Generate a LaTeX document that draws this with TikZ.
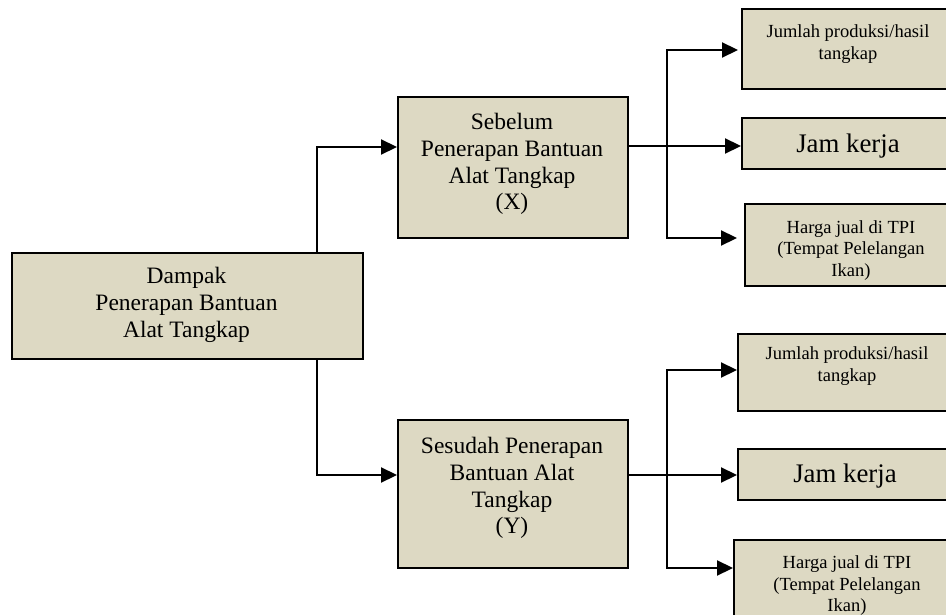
\documentclass[tikz,border=0pt]{standalone}
\usepackage{fontspec}
\setmainfont{Liberation Serif}
\usetikzlibrary{arrows.meta,calc}
\definecolor{boxfill}{RGB}{221,217,195}
\tikzset{
  box/.style={draw=black, line width=2pt, fill=boxfill, inner sep=0pt, anchor=north west},
  bigtxt/.style={align=center, inner sep=0pt, font=\fontsize{23.5pt}{26.8pt}\selectfont},
  jamtxt/.style={align=center, inner sep=0pt, font=\fontsize{26.8pt}{30pt}\selectfont},
  smalltxt/.style={align=center, inner sep=0pt, font=\fontsize{18.5pt}{21.5pt}\selectfont},
  arr/.style={line width=2.2pt, -{Triangle[length=16pt,width=15pt]}},
}
\begin{document}
\begin{tikzpicture}[x=1pt,y=-1pt]
\useasboundingbox (0,0) rectangle (946,615);
\fill[white] (0,0) rectangle (946,615);
% boxes
\node[box, minimum width=351pt, minimum height=106pt] (main) at (11,252) {};
\node[box, minimum width=230pt, minimum height=141pt] (seb) at (397,96) {};
\node[box, minimum width=230pt, minimum height=148pt] (ses) at (397,419) {};
\node[box, minimum width=214pt, minimum height=80pt] (t1) at (741,8) {};
\node[box, minimum width=214pt, minimum height=51pt] (t2) at (741,117) {};
\node[box, minimum width=214pt, minimum height=82pt] (t3) at (744,203) {};
\node[box, minimum width=220pt, minimum height=77pt] (b1) at (737,333) {};
\node[box, minimum width=216pt, minimum height=51pt] (b2) at (737,448) {};
\node[box, minimum width=228pt, minimum height=110pt] (b3) at (733,539) {};
% texts
\node[bigtxt] (maint) at (186.5,305) {Dampak\\Penerapan Bantuan\\Alat Tangkap};
\node[bigtxt] (sebt) at (512,164) {Sebelum\\Penerapan Bantuan\\Alat Tangkap\\(X)};
\node[bigtxt] (sest) at (512,488) {Sesudah Penerapan\\Bantuan Alat\\Tangkap\\(Y)};
\node[smalltxt] (t1t) at (848,44) {Jumlah produksi/hasil\\tangkap};
\node[jamtxt] (t2t) at (848,146) {Jam kerja};
\node[smalltxt] (t3t) at (851,250.5) {Harga jual di TPI\\(Tempat Pelelangan\\Ikan)};
\node[smalltxt] (b1t) at (847,366) {Jumlah produksi/hasil\\tangkap};
\node[jamtxt] (b2t) at (845,476) {Jam kerja};
\node[smalltxt] (b3t) at (847,586) {Harga jual di TPI\\(Tempat Pelelangan\\Ikan)};
% junctions
\coordinate (j1) at (317,147);
\coordinate (j2) at (317,475);
\coordinate (k1) at (667,50);
\coordinate (k2) at (667,146);
\coordinate (k3) at (667,238);
\coordinate (m1) at (667,370);
\coordinate (m2) at (667,475);
\coordinate (m3) at (667,568);
% connectors
\draw[arr] (j1 |- main.north) -- (j1) -- (seb.west |- j1);
\draw[arr] (j2 |- main.south) -- (j2) -- (ses.west |- j2);
\draw[arr] (seb.east |- k2) -- (t2.west |- k2);
\draw[arr, shorten >=3pt] (k2) -- (k1) -- (t1.west |- k1);
\draw[arr, shorten >=7pt] (k2) -- (k3) -- (t3.west |- k3);
\draw[arr] (ses.east |- m2) -- (b2.west |- m2);
\draw[arr] (m2) -- (m1) -- (b1.west |- m1);
\draw[arr] (m2) -- (m3) -- (b3.west |- m3);
\end{tikzpicture}
\end{document}
